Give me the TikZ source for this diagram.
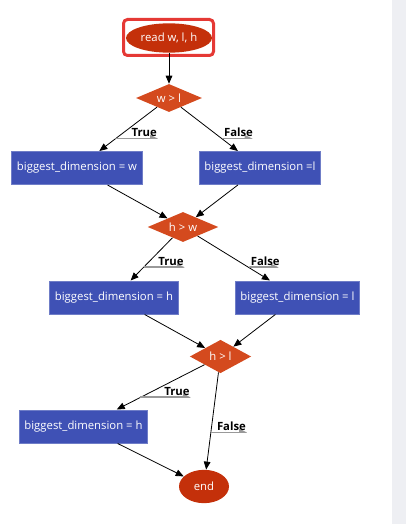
\documentclass[tikz,border=0pt]{standalone}
\usepackage{fontspec}
\setmainfont{Open Sans}
\definecolor{boxblue}{RGB}{63, 81, 181}
\definecolor{rust}{RGB}{212, 74, 30}
\definecolor{brick}{RGB}{196, 48, 10}
\definecolor{alert}{RGB}{229, 57, 53}
\definecolor{sidebar}{RGB}{238, 239, 243}
\usetikzlibrary{shapes.geometric, arrows.meta}
\tikzset{
  terminal/.style 2 args={ellipse, fill=brick, text=white, inner sep=0pt, minimum width=#1, minimum height=#2, font=\fontsize{8.5}{10}\selectfont},
  decision/.style 2 args={diamond, aspect=2.2, fill=rust, text=white, inner sep=0pt, minimum width=#1, minimum height=#2, font=\fontsize{8.5}{10}\selectfont},
  process/.style={rectangle, fill=boxblue, draw=boxblue!75!white, line width=0.5pt, text=white, inner xsep=3.9pt, minimum height=25pt, font=\fontsize{8.5}{10}\selectfont},
  flow/.style={draw, line width=0.6pt, -{Triangle[length=6pt, width=5pt]}},
  edgelabel/.style={anchor=south west, font=\fontsize{8.5}{10}\selectfont\bfseries, text=black, inner xsep=1pt, inner ysep=1.4pt, text width=#1,
    path picture={\draw[gray!80, line width=1.4pt] (path picture bounding box.south west) -- (path picture bounding box.south east);}},
}
\begin{document}
\begin{tikzpicture}[x=0.75pt, y=-0.75pt]
\useasboundingbox (0,0) rectangle (406,524);
\fill[sidebar] (392,0) rectangle (406,524);
\node[terminal={64.5pt}{22pt}] (st) at (169,38) {read w, l, h};
\node[draw=alert, line width=2.25pt, rounded corners=3pt, minimum width=67.5pt, minimum height=27pt] (sel) at (168.5,37.5) {};
\node[decision={49.5pt}{21pt}] (dwl) at (169,98) {w > l};
\node[process] (b1) at (77,168) {biggest\_dimension = w};
\node[process] (b2) at (260,168) {biggest\_dimension =l};
\node[decision={53pt}{22.5pt}] (dhw) at (183,227) {h > w};
\node[process] (b3) at (114,297.5) {biggest\_dimension = h};
\node[process] (b4) at (297.5,297.5) {biggest\_dimension = l};
\node[decision={46pt}{25pt}] (dhl) at (220.5,356.5) {h > l};
\node[process] (b5) at (83.5,426.5) {biggest\_dimension = h};
\node[terminal={37.5pt}{25pt}] (en) at (204,486.5) {end};

\draw[flow] (st) -- (dwl);
\draw[flow] (dwl) -- (b1) node[pos=0.727, edgelabel=30pt, align=right] {True};
\draw[flow] (dwl) -- (b2) node[pos=0.727, edgelabel=20.5pt, align=left] {False};
\draw[flow] (b1) -- (dhw);
\draw[flow] (b2) -- (dhw);
\draw[flow] (dhw) -- (b3) node[pos=0.700, edgelabel=29pt, align=right] {True};
\draw[flow] (dhw) -- (b4) node[pos=0.712, edgelabel=20pt, align=left] {False};
\draw[flow] (b3) -- (dhl);
\draw[flow] (b4) -- (dhl);
\draw[flow] (dhl) -- (b5) node[pos=0.737, edgelabel=36pt, align=right] {True};
\draw[flow] (dhl) -- (en) node[pos=0.622, edgelabel=25pt, align=right] {False};
\draw[flow] (b5) -- (en);
\end{tikzpicture}
\end{document}
